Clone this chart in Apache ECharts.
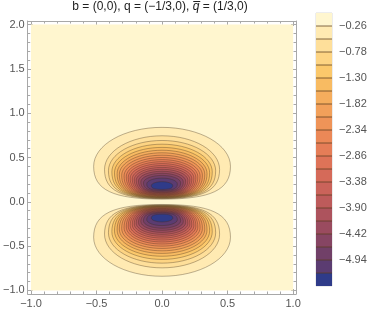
<!DOCTYPE html>
<html><head><meta charset="utf-8">
<script src="https://cdn.jsdelivr.net/npm/echarts@6/dist/echarts.min.js"></script>
<style>html,body{margin:0;padding:0;background:#fff}#c{width:374px;height:316px}</style>
</head><body><div id="c"></div>
<script>
// ---------- data ----------
const titleParts = ['b = (0,0), q = (\u22121/3,0), ', 'q\u0305', ' = (1/3,0)'];
const xMajorTicks = [-1, -0.5, 0, 0.5, 1];
const xTickLabels = ['\u22121.0', '\u22120.5', '0.0', '0.5', '1.0'];
const xMinorTicks = [-0.9,-0.8,-0.7,-0.6,-0.4,-0.3,-0.2,-0.1,0.1,0.2,0.3,0.4,0.6,0.7,0.8,0.9];
const yMajorTicks = [-1, -0.5, 0, 0.5, 1, 1.5, 2];
const yTickLabels = ['\u22121.0', '\u22120.5', '0.0', '0.5', '1.0', '1.5', '2.0'];
const yMinorTicks = [-0.9,-0.8,-0.7,-0.6,-0.4,-0.3,-0.2,-0.1,0.1,0.2,0.3,0.4,0.6,0.7,0.8,0.9,1.1,1.2,1.3,1.4,1.6,1.7,1.8,1.9];
const plotXRange = [-1, 1];
const plotYRange = [-1, 2];

// band boundaries (legend), contour levels are the inner ones
const legendBounds = [0, -0.26, -0.52, -0.78, -1.04, -1.30, -1.56, -1.82, -2.08, -2.34, -2.60,
  -2.86, -3.12, -3.38, -3.64, -3.90, -4.16, -4.42, -4.68, -4.94, -5.20, -5.46];
const bandColors = ['#fff6cf','#ffeab2','#fedf9a','#fdd483','#fbc86b','#f8bb62','#f5ad5d',
  '#f2a05a','#ef9458','#eb8857','#e57d57','#de7358','#d56a59','#ca635a','#bd5b5b','#ad535d',
  '#9a4b5f','#864563','#714068','#5b3c71','#2f3b89'];
const legendTickValues = [-0.26, -0.78, -1.30, -1.82, -2.34, -2.86, -3.38, -3.90, -4.42, -4.94];
const legendTickLabels = ['\u22120.26','\u22120.78','\u22121.30','\u22121.82','\u22122.34',
  '\u22122.86','\u22123.38','\u22123.90','\u22124.42','\u22124.94'];

// contour extents (upper lobe; lower lobe is its mirror), one entry per level -0.26 ... -5.20
const halfWidth = [0.522,0.439,0.409,0.383,0.363,0.343,0.326,0.308,0.290,0.273,
  0.258,0.243,0.227,0.212,0.197,0.180,0.162,0.142,0.117,0.082];
const yTop = [0.840,0.745,0.692,0.650,0.614,0.582,0.553,0.526,0.500,0.476,
  0.453,0.431,0.409,0.388,0.367,0.345,0.322,0.298,0.268,0.227];
const yMid = [0.400,0.365,0.350,0.338,0.328,0.318,0.309,0.300,0.291,0.283,
  0.275,0.267,0.259,0.251,0.243,0.235,0.225,0.214,0.201,0.183];
const yBottom = [0.030,0.036,0.040,0.044,0.048,0.052,0.056,0.060,0.065,0.070,
  0.075,0.080,0.085,0.091,0.097,0.104,0.111,0.119,0.128,0.140];
const lobeSigns = [1, -1];

// ---------- chart ----------
const FONT = '"Liberation Sans", Arial, sans-serif';
const LABEL = '#555';
const FRAME = '#a8a8a8';
const LINE = 'rgba(60,42,25,0.5)';
const K = 0.5523, Q = 0.72;

const lobeData = [];
lobeSigns.forEach(s => {
  halfWidth.forEach((a, i) => {
    lobeData.push([a, s * yTop[i], s * yMid[i], s * yBottom[i], i + 1]);
  });
});

function lobePath(api) {
  const a = api.value(0), t = api.value(1), m = api.value(2), b = api.value(3);
  const pT = api.coord([0, t]), pL = api.coord([-a, m]), pR = api.coord([a, m]), pB = api.coord([0, b]);
  const cx = pT[0], yT = pT[1], xL = pL[0], xR = pR[0], yM = pL[1], yB = pB[1];
  const f = (x, y) => x.toFixed(2) + ' ' + y.toFixed(2);
  return 'M' + f(cx, yT) +
    ' C' + f(cx + K * (xL - cx), yT) + ' ' + f(xL, yM + K * (yT - yM)) + ' ' + f(xL, yM) +
    ' C' + f(xL, yM + Q * (yB - yM)) + ' ' + f(cx + Q * (xL - cx), yB) + ' ' + f(cx, yB) +
    ' C' + f(cx + Q * (xR - cx), yB) + ' ' + f(xR, yM + Q * (yB - yM)) + ' ' + f(xR, yM) +
    ' C' + f(xR, yM + K * (yT - yM)) + ' ' + f(cx + K * (xR - cx), yT) + ' ' + f(cx, yT) + ' Z';
}

function lookup(vals, labels) {
  return v => {
    let best = 0, d = Infinity;
    vals.forEach((x, i) => { if (Math.abs(x - v) < d) { d = Math.abs(x - v); best = i; } });
    return d < 1e-6 ? labels[best] : '';
  };
}

function mkX(position, minor, labels) {
  return {
    type: 'value', gridIndex: 0, position: position, min: -1.025, max: 1.022,
    axisLine: { show: !minor, onZero: false, lineStyle: { color: FRAME, width: 1 } },
    axisTick: { show: true, inside: true, length: minor ? 2.5 : 5,
      customValues: minor ? xMinorTicks : xMajorTicks, lineStyle: { color: FRAME } },
    axisLabel: { show: labels, customValues: xMajorTicks, formatter: lookup(xMajorTicks, xTickLabels),
      color: LABEL, fontSize: 11, fontFamily: FONT, margin: 4 },
    splitLine: { show: false }
  };
}
function mkY(position, minor, labels) {
  return {
    type: 'value', gridIndex: 0, position: position, min: -1.04, max: 2.04,
    axisLine: { show: !minor, onZero: false, lineStyle: { color: FRAME, width: 1 } },
    axisTick: { show: true, inside: true, length: minor ? 2.5 : 5,
      customValues: minor ? yMinorTicks : yMajorTicks, lineStyle: { color: FRAME } },
    axisLabel: { show: labels, customValues: yMajorTicks, formatter: lookup(yMajorTicks, yTickLabels),
      color: LABEL, fontSize: 11, fontFamily: FONT, margin: 3 },
    splitLine: { show: false }
  };
}

const legendData = bandColors.map((c, k) => [legendBounds[k], legendBounds[k + 1], k]);

const chart = echarts.init(document.getElementById('c'), null, { renderer: 'canvas' });
chart.setOption({
  animation: false,
  backgroundColor: '#fff',
  title: {
    text: '{n|' + titleParts[0] + '}{i|' + titleParts[1] + '}{n|' + titleParts[2] + '}',
    left: 160, top: 1, textAlign: 'center', padding: 0,
    textStyle: { fontWeight: 'normal', rich: {
      n: { fontSize: 12, color: '#222', fontFamily: FONT, fontWeight: 'normal' },
      i: { fontSize: 12, color: '#222', fontFamily: FONT, fontStyle: 'italic', fontWeight: 'normal' }
    } }
  },
  grid: [
    { left: 25, right: 78, top: 21, bottom: 22, backgroundColor: '#fff', show: true, borderWidth: 0 },
    { left: 316, width: 16, top: 13, height: 273, show: true, borderColor: '#d0d0d0', borderWidth: 0.8 }
  ],
  xAxis: [
    mkX('bottom', false, true), mkX('bottom', true, false),
    mkX('top', false, false), mkX('top', true, false),
    { type: 'value', gridIndex: 1, min: 0, max: 1, show: false }
  ],
  yAxis: [
    mkY('left', false, true), mkY('left', true, false),
    mkY('right', false, false), mkY('right', true, false),
    { type: 'value', gridIndex: 1, min: legendBounds[legendBounds.length - 1], max: legendBounds[0], position: 'right',
      axisLine: { show: false },
      axisTick: { show: true, length: 6, customValues: legendTickValues, lineStyle: { color: '#aaa' } },
      axisLabel: { customValues: legendTickValues, formatter: lookup(legendTickValues, legendTickLabels),
        color: LABEL, fontSize: 11, fontFamily: FONT, margin: 7 },
      splitLine: { show: false } }
  ],
  series: [
    { // background region
      type: 'custom', xAxisIndex: 0, yAxisIndex: 0, silent: true, z: 1,
      data: [[plotXRange[0], plotYRange[0], plotXRange[1], plotYRange[1]]],
      renderItem: (p, api) => {
        const a = api.coord([api.value(0), api.value(3)]);
        const b = api.coord([api.value(2), api.value(1)]);
        return { type: 'rect', shape: { x: a[0], y: a[1], width: b[0] - a[0], height: b[1] - a[1] },
          style: { fill: bandColors[0] } };
      }
    },
    { // contour fills
      type: 'custom', xAxisIndex: 0, yAxisIndex: 0, silent: true, z: 2, clip: true,
      data: lobeData,
      renderItem: (p, api) => ({ type: 'path', shape: { pathData: lobePath(api) },
        style: { fill: bandColors[api.value(4)], stroke: null } })
    },
    { // contour lines
      type: 'custom', xAxisIndex: 0, yAxisIndex: 0, silent: true, z: 3, clip: true,
      data: lobeData,
      renderItem: (p, api) => ({ type: 'path', shape: { pathData: lobePath(api) },
        style: { fill: null, stroke: LINE, lineWidth: 0.7 } })
    },
    { // legend bar
      type: 'custom', xAxisIndex: 4, yAxisIndex: 4, silent: true, z: 2,
      data: legendData,
      renderItem: (p, api) => {
        const hi = api.coord([0, api.value(0)]);
        const lo = api.coord([1, api.value(1)]);
        const k = api.value(2);
        const children = [{ type: 'rect', shape: { x: hi[0], y: hi[1], width: lo[0] - hi[0], height: lo[1] - hi[1] },
          style: { fill: bandColors[k] } }];
        if (k > 0) children.push({ type: 'line', shape: { x1: hi[0], y1: hi[1], x2: lo[0], y2: hi[1] },
          style: { stroke: 'rgba(90,60,30,0.75)', lineWidth: 1 } });
        return { type: 'group', children: children };
      }
    }
  ]
});
</script>
</body></html>
